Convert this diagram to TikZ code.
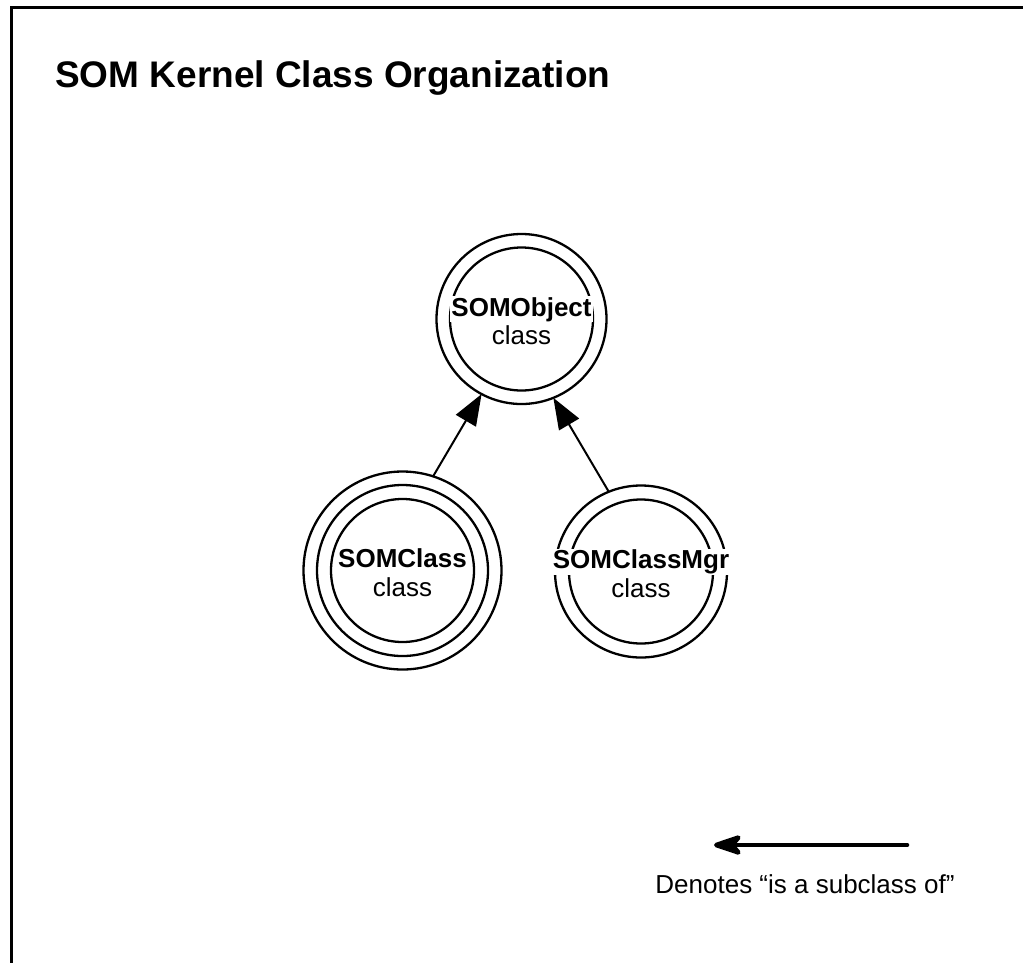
\documentclass[tikz,border=0pt]{standalone}
\usepackage{fontspec}
\setmainfont{Liberation Sans}
\usepackage{tikz}
\usetikzlibrary{arrows.meta,calc,positioning}

\begin{document}
\begin{tikzpicture}[x=1pt,y=-1pt]
             \tikzstyle{ring}=[draw,circle,line width=2.3pt,inner sep=0pt,outer sep=0pt]
             \tikzstyle{clsname}=[fill=white,inner sep=1pt,anchor=base,yshift=3pt,font=\fontsize{26}{30}\selectfont\bfseries]
             \tikzstyle{clskind}=[inner sep=0pt,anchor=base,font=\fontsize{26}{30}\selectfont]
             \tikzstyle{isa}=[line width=2pt,-{Triangle[length=31pt,width=23pt]}]
             \tikzstyle{legendarrow}=[line width=4.6pt,line cap=round,-{Stealth[length=36pt,width=24pt,inset=10pt,round]}]
            \useasboundingbox [fill=white] (0,0) rectangle (1023,962);
            % page frame, only top and left edge show
            \draw [line width=3.3pt] (11.6,975) |- (1035,7.7);
            \node [anchor=base west,inner sep=0pt,font=\fontsize{37}{44}\selectfont\bfseries] (title) at (55,87) {SOM Kernel Class Organization};

            % root class
            \node (obj) [ring, minimum size=170pt] at (521.5,319) {};
            \node (objin) [ring, minimum size=143pt] at (obj) {};
            \node (objname) [clsname] at (obj) {SOMObject};
            \node (objkind) [clskind] at ([yshift=-28pt]objname.base) {class};

            % metaclass: three rings
            \node (cls) [ring, minimum size=198pt] at (402.5,570.5) {};
            \node (clsmid) [ring, minimum size=171pt] at (cls) {};
            \node (clsin) [ring, minimum size=143pt] at (cls) {};
            \node (clsname) [clsname] at (cls) {SOMClass};
            \node (clskind) [clskind] at ([yshift=-29pt]clsname.base) {class};

            \node (mgr) [ring, minimum size=172pt] at (641,571.5) {};
            \node (mgrin) [ring, minimum size=144pt] at (mgr) {};
            \node (mgrname) [clsname] at (mgr) {SOMClassMgr};
            \node (mgrkind) [clskind] at ([yshift=-29pt]mgrname.base) {class};

            \draw [isa] (cls.72) -- (obj.242);
            \draw [isa] (mgr.112) -- (obj.292);

            % legend
            \coordinate (legtail) at (907,845);
            \coordinate (leghead) at (714,845);
            \draw [legendarrow] (legtail) -- (leghead);
            \node (legtext) [clskind] at (805,893) {Denotes “is a subclass of”};
\end{tikzpicture}
\end{document}
